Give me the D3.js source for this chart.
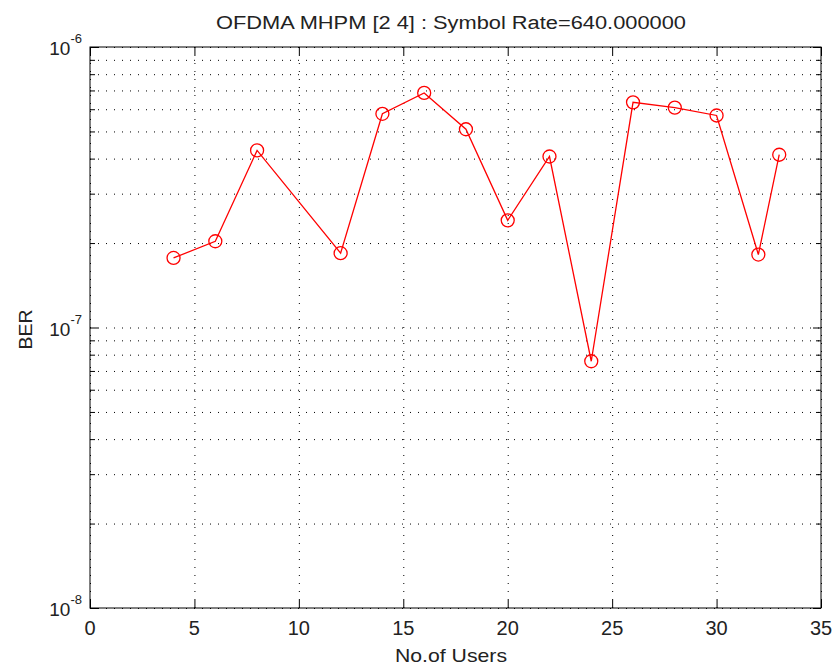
<!DOCTYPE html>
<html>
<head>
<meta charset="utf-8">
<script src="https://cdn.jsdelivr.net/npm/d3@7"></script>
<style>
  body { margin: 0; background: #fff; }
  svg { font-family: "Liberation Sans", Arial, sans-serif; fill: #222; }
  .grid line { stroke: #000; stroke-dasharray: 1,7; stroke-width: 1; }
  .grid path { display: none; }
  .ax path, .ax line { stroke: #000; }
</style>
</head>
<body>
<script>
// data
const users = [4, 6, 8, 12, 14, 16, 18, 20, 22, 24, 26, 28, 30, 32, 33];
const ber = [1.77e-7, 2.03e-7, 4.28e-7, 1.84e-7, 5.78e-7, 6.86e-7, 5.09e-7, 2.41e-7,
             4.07e-7, 7.58e-8, 6.35e-7, 6.08e-7, 5.70e-7, 1.82e-7, 4.13e-7];
const xTicks = [0, 5, 10, 15, 20, 25, 30, 35];
const yMajor = [1e-8, 1e-7, 1e-6];
const yExp = ["-8", "-7", "-6"];
const titleText = "OFDMA MHPM [2 4] : Symbol Rate=640.000000";

const W = 835, H = 667;
const margin = {top: 47, right: 14, bottom: 59, left: 90};
const width = W - margin.left - margin.right,
      height = H - margin.top - margin.bottom;
const textMid = 451 - margin.left; // centre used for title and x label

// minor ticks for the log axis (2..9 within each decade)
let yMinor = [];
for (let d = 0; d < yMajor.length - 1; d++) {
  for (let k = 2; k <= 9; k++) yMinor.push(yMajor[d] * k);
}

let x = d3.scaleLinear().domain([0, 35]).range([0, width]);
let y = d3.scaleLog().domain([1e-8, 1e-6]).range([height, 0]);

let svg = d3.select("body").append("svg")
    .attr("width", W)
    .attr("height", H)
  .append("g")
    .attr("transform", "translate(" + margin.left + "," + margin.top + ")");

// dotted grid
svg.append("g")
    .attr("class", "grid")
    .call(d3.axisLeft(y).tickValues(yMajor.concat(yMinor)).tickSize(-width).tickFormat(""));
svg.append("g")
    .attr("class", "grid")
    .attr("transform", "translate(0," + height + ")")
    .call(d3.axisBottom(x).tickValues(xTicks).tickSize(-height).tickFormat(""));

// box
svg.append("rect")
    .attr("width", width)
    .attr("height", height)
    .attr("fill", "none")
    .attr("stroke", "#000");

// inward ticks on all four sides
svg.append("g").attr("class", "ax")
    .attr("transform", "translate(0," + height + ")")
    .call(d3.axisBottom(x).tickValues(xTicks).tickSize(-8).tickFormat(""));
svg.append("g").attr("class", "ax")
    .call(d3.axisTop(x).tickValues(xTicks).tickSize(-8).tickFormat(""));
svg.append("g").attr("class", "ax")
    .call(d3.axisLeft(y).tickValues(yMajor).tickSize(-8).tickFormat(""));
svg.append("g").attr("class", "ax")
    .call(d3.axisLeft(y).tickValues(yMinor).tickSize(-5).tickFormat(""));
svg.append("g").attr("class", "ax")
    .attr("transform", "translate(" + width + ",0)")
    .call(d3.axisRight(y).tickValues(yMajor).tickSize(-8).tickFormat(""));
svg.append("g").attr("class", "ax")
    .attr("transform", "translate(" + width + ",0)")
    .call(d3.axisRight(y).tickValues(yMinor).tickSize(-5).tickFormat(""));
svg.selectAll(".ax path").remove();

// x tick labels
svg.selectAll(".xlab")
    .data(xTicks)
    .enter().append("text")
    .attr("x", d => x(d))
    .attr("y", height + 27)
    .attr("text-anchor", "middle")
    .style("font-size", "20px")
    .text(d => d);

// y tick labels 10^n
let yl = svg.selectAll(".ylab")
    .data(yMajor)
    .enter().append("text")
    .attr("x", -8)
    .attr("y", d => y(d) + 8)
    .attr("text-anchor", "end")
    .style("font-size", "19px");
yl.append("tspan").text("10");
yl.append("tspan")
    .attr("dy", -12)
    .style("font-size", "13px")
    .text((d, i) => yExp[i]);

// title and axis labels
svg.append("text")
    .attr("x", textMid)
    .attr("y", -18)
    .attr("text-anchor", "middle")
    .attr("textLength", 470)
    .attr("lengthAdjust", "spacingAndGlyphs")
    .style("font-size", "18px")
    .text(titleText);
svg.append("text")
    .attr("x", textMid)
    .attr("y", height + 54)
    .attr("text-anchor", "middle")
    .attr("textLength", 112)
    .attr("lengthAdjust", "spacingAndGlyphs")
    .style("font-size", "19px")
    .text("No.of Users");
svg.append("text")
    .attr("transform", "rotate(-90)")
    .attr("x", -(y(1e-7) + 2))
    .attr("y", -58)
    .attr("text-anchor", "middle")
    .attr("textLength", 40)
    .attr("lengthAdjust", "spacingAndGlyphs")
    .style("font-size", "19px")
    .text("BER");

// series
let line = d3.line()
    .x((d, i) => x(users[i]))
    .y(d => y(d));
svg.append("path")
    .datum(ber)
    .attr("d", line)
    .attr("fill", "none")
    .attr("stroke", "#ff0000")
    .attr("stroke-width", 1.3);
svg.selectAll(".pt")
    .data(ber)
    .enter().append("circle")
    .attr("cx", (d, i) => x(users[i]))
    .attr("cy", d => y(d))
    .attr("r", 6.5)
    .attr("fill", "none")
    .attr("stroke", "#ff0000")
    .attr("stroke-width", 1.3);
</script>
</body>
</html>
